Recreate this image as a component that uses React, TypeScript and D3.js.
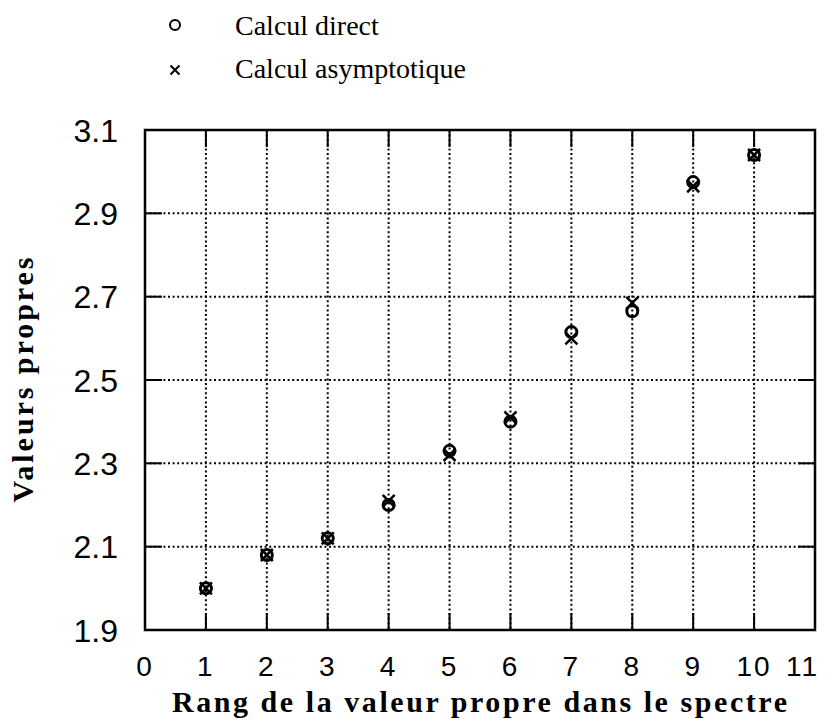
import React from "react";
import * as d3 from "d3";

// rank of the eigenvalue in the spectrum
const ranks = [1, 2, 3, 4, 5, 6, 7, 8, 9, 10];
// direct computation (circles)
const directValues = [2.0, 2.08, 2.12, 2.2, 2.33, 2.4, 2.615, 2.665, 2.975, 3.04];
// asymptotic computation (crosses)
const asymptoticValues = [2.0, 2.08, 2.12, 2.21, 2.32, 2.41, 2.6, 2.685, 2.965, 3.04];

const xTicks = [0, 1, 2, 3, 4, 5, 6, 7, 8, 9, 10, 11];
const yTicks = [1.9, 2.1, 2.3, 2.5, 2.7, 2.9, 3.1];
const legendLabels = ["Calcul direct", "Calcul asymptotique"];

const W = 838;
const H = 723;
const plot = { left: 145, right: 815, top: 130, bottom: 630 };

const App = () => {
  const x = d3.scaleLinear().domain([0, 11]).range([plot.left, plot.right]);
  const y = d3.scaleLinear().domain([1.9, 3.1]).range([plot.bottom, plot.top]);

  const innerX = xTicks.filter((t) => t > 0 && t < 11);
  const innerY = yTicks.filter((t) => t > 1.9 && t < 3.1);
  const tickLen = 17;
  const dots = "2,2.6";

  const cross = (cx: number, cy: number, s: number) =>
    `M${cx - s},${cy - s}L${cx + s},${cy + s}M${cx - s},${cy + s}L${cx + s},${cy - s}`;

  return (
    <svg
      width={W}
      height={H}
      style={{ position: "absolute", left: 0, top: 0, background: "#fff" }}
    >
      {/* legend */}
      <g fontFamily="'Liberation Serif', 'Times New Roman', serif" fontSize={28} fill="#000">
        <circle cx={175} cy={25} r={5} fill="none" stroke="#000" strokeWidth={2} />
        <text x={235} y={35}>{legendLabels[0]}</text>
        <path d={cross(175, 70, 4.5)} stroke="#000" strokeWidth={2} />
        <text x={235} y={78}>{legendLabels[1]}</text>
      </g>

      {/* dotted grid */}
      <g stroke="#000" strokeWidth={2} strokeDasharray={dots}>
        {innerX.map((t) => (
          <line key={"gx" + t} x1={x(t)} x2={x(t)} y1={plot.top} y2={plot.bottom} />
        ))}
        {innerY.map((t) => (
          <line key={"gy" + t} x1={plot.left} x2={plot.right} y1={y(t)} y2={y(t)} />
        ))}
      </g>

      {/* solid ticks on all four sides */}
      <g stroke="#000" strokeWidth={2}>
        {innerX.map((t) => (
          <g key={"tx" + t}>
            <line x1={x(t)} x2={x(t)} y1={plot.top} y2={plot.top + tickLen} />
            <line x1={x(t)} x2={x(t)} y1={plot.bottom} y2={plot.bottom - tickLen} />
          </g>
        ))}
        {innerY.map((t) => (
          <g key={"ty" + t}>
            <line x1={plot.left} x2={plot.left + tickLen} y1={y(t)} y2={y(t)} />
            <line x1={plot.right} x2={plot.right - tickLen} y1={y(t)} y2={y(t)} />
          </g>
        ))}
      </g>

      <rect
        x={plot.left}
        y={plot.top}
        width={plot.right - plot.left}
        height={plot.bottom - plot.top}
        fill="none"
        stroke="#000"
        strokeWidth={2.5}
      />

      {/* tick labels */}
      <g fontFamily="'Liberation Sans', Arial, sans-serif" fill="#000">
        {yTicks.map((t) => (
          <text key={"ly" + t} x={plot.left - 27} y={y(t) + 11.5} fontSize={32} textAnchor="end">
            {t.toFixed(1)}
          </text>
        ))}
        {xTicks.map((t, i) => (
          <text
            key={"lx" + t}
            x={i === xTicks.length - 1 ? x(t) + 4 : x(t)}
            y={plot.bottom + 46}
            fontSize={28}
            letterSpacing={2}
            textAnchor={i === xTicks.length - 1 ? "end" : "middle"}
          >
            {t}
          </text>
        ))}
      </g>

      {/* axis titles */}
      <g fontFamily="'Liberation Serif', 'Times New Roman', serif" fontWeight="bold" fill="#000">
        <text
          x={172}
          y={712}
          fontSize={30}
          textLength={615}
          lengthAdjust="spacing"
        >
          Rang de la valeur propre dans le spectre
        </text>
        <text
          transform={`translate(33, ${(plot.top + plot.bottom) / 2}) rotate(-90)`}
          fontSize={30}
          textAnchor="middle"
          textLength={245}
          lengthAdjust="spacing"
        >
          Valeurs propres
        </text>
      </g>

      {/* data marks */}
      <g fill="none" stroke="#000">
        {ranks.map((r, i) => (
          <circle key={"c" + r} cx={x(r)} cy={y(directValues[i])} r={5.5} strokeWidth={3} />
        ))}
        {ranks.map((r, i) => (
          <path key={"x" + r} d={cross(x(r), y(asymptoticValues[i]), 6)} strokeWidth={2.5} />
        ))}
      </g>
    </svg>
  );
};

export default App;
